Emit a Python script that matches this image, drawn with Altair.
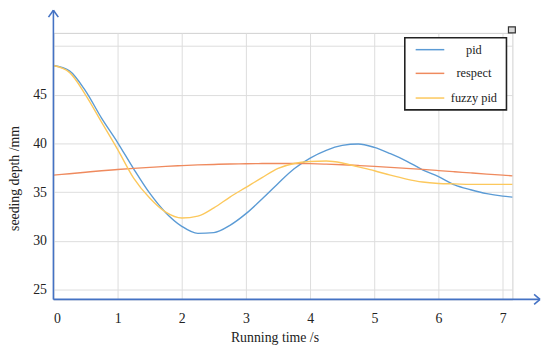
import altair as alt
import pandas as pd

time = [0, 0.25, 0.5, 0.75, 1.0, 1.25, 1.5, 1.75, 2.0, 2.25, 2.5, 2.75, 3.0, 3.25, 3.5,
        3.75, 4.0, 4.25, 4.5, 4.75, 5.0, 5.25, 5.5, 5.75, 6.0, 6.25, 6.5, 6.75, 7.0, 7.15]
pid = [48.0, 47.45, 45.4, 42.6, 40.1, 37.4, 34.9, 32.9, 31.5, 30.78, 30.85, 31.6, 32.8, 34.3, 35.9,
       37.4, 38.5, 39.3, 39.8, 39.95, 39.6, 38.95, 38.2, 37.3, 36.6, 35.75, 35.25, 34.85, 34.6, 34.5]
respect = [36.75, 36.9, 37.05, 37.2, 37.33, 37.45, 37.55, 37.65, 37.73, 37.8, 37.85, 37.9, 37.92, 37.94, 37.95,
           37.95, 37.93, 37.88, 37.82, 37.74, 37.65, 37.55, 37.45, 37.34, 37.22, 37.1, 36.98, 36.86, 36.75, 36.68]
fuzzy = [48.0, 47.3, 45.0, 42.2, 39.4, 36.45, 34.4, 32.95, 32.35, 32.55, 33.4, 34.5, 35.5, 36.5, 37.45,
         37.95, 38.15, 38.2, 38.0, 37.6, 37.2, 36.75, 36.35, 36.05, 35.9, 35.85, 35.8, 35.8, 35.8, 35.8]

series_names = ["pid", "respect", "fuzzy pid"]
series_colors = ["#5B9BD5", "#EF8A5E", "#FCC85C"]
y_ticks = [25, 30, 35, 40, 45, 50]
x_ticks = [0, 1, 2, 3, 4, 5, 6, 7]

rows = []
for name, vals in zip(series_names, [pid, respect, fuzzy]):
    for t, v in zip(time, vals):
        rows.append({"time": t, "value": v, "series": name})
df = pd.DataFrame(rows)

FONT = "Liberation Serif"
AXIS_BLUE = "#4472C4"
TEXT = "#222222"
W, H = 465, 270

lines = alt.Chart(df).mark_line(strokeWidth=1.4, interpolate="monotone").encode(
    x=alt.X("time:Q",
            scale=alt.Scale(domain=[0, 7.15], nice=False, zero=False),
            axis=alt.Axis(values=x_ticks, title="Running time /s", domain=False, ticks=False,
                          grid=True, gridColor="#dcdcdc", labelPadding=12, labelFontSize=14,
                          labelFont=FONT, labelColor=TEXT, titleFont=FONT, titleFontSize=14,
                          titleFontWeight="normal", titleColor=TEXT, titleX=224, titleY=39,
                          titleBaseline="middle")),
    y=alt.Y("value:Q",
            scale=alt.Scale(domain=[24, 51.35], nice=False, zero=False),
            axis=alt.Axis(values=y_ticks, title="seeding depth /mm", domain=False, ticks=False,
                          grid=True, gridColor="#dcdcdc", labelPadding=7, labelFontSize=14,
                          labelFont=FONT, labelColor=TEXT,
                          labelExpr="datum.value == 50 ? '' : datum.label",
                          titleFont=FONT, titleFontSize=14, titleFontWeight="normal",
                          titleColor=TEXT, titleX=-39, titleY=147, titleBaseline="middle",
                          titleAlign="center", titleAngle=-90)),
    color=alt.Color("series:N",
                    scale=alt.Scale(domain=series_names, range=series_colors),
                    sort=series_names, legend=None),
)

# axis lines with arrowheads
axis_style = dict(color=AXIS_BLUE, strokeWidth=1.6)
yaxis_line = alt.Chart().mark_rule(**axis_style).encode(
    x=alt.value(0), y=alt.value(-23), y2=alt.value(H))
xaxis_line = alt.Chart().mark_rule(**axis_style).encode(
    x=alt.value(0), x2=alt.value(W + 28), y=alt.value(H))
ya1 = alt.Chart().mark_rule(**axis_style).encode(
    x=alt.value(0), x2=alt.value(-5), y=alt.value(-23), y2=alt.value(-16))
ya2 = alt.Chart().mark_rule(**axis_style).encode(
    x=alt.value(0), x2=alt.value(5), y=alt.value(-23), y2=alt.value(-16))
xa1 = alt.Chart().mark_rule(**axis_style).encode(
    x=alt.value(W + 28), x2=alt.value(W + 22), y=alt.value(H), y2=alt.value(H - 5))
xa2 = alt.Chart().mark_rule(**axis_style).encode(
    x=alt.value(W + 28), x2=alt.value(W + 22), y=alt.value(H), y2=alt.value(H + 5))

# legend box
LX0, LX1, LY0, LY1 = 356, 459, 5, 78
legend_box = alt.Chart().mark_rect(fill="white", stroke=TEXT, strokeWidth=1.6).encode(
    x=alt.value(LX0), x2=alt.value(LX1), y=alt.value(LY0), y2=alt.value(LY1))
legend_layers = [legend_box]
row_y = [17, 41, 66]
for name, col, ry in zip(series_names, series_colors, row_y):
    legend_layers.append(alt.Chart().mark_rule(color=col, strokeWidth=1.5).encode(
        x=alt.value(367), x2=alt.value(396), y=alt.value(ry)))
    legend_layers.append(alt.Chart().mark_text(
        text=name, font=FONT, fontSize=12.5, color=TEXT, align="center", baseline="middle").encode(
        x=alt.value(426), y=alt.value(ry)))

# small icon at top right
icon = alt.Chart().mark_rect(fill="#d8d8d8", stroke="#333333", strokeWidth=1.2).encode(
    x=alt.value(461), x2=alt.value(468), y=alt.value(-6), y2=alt.value(0))

chart = alt.layer(lines, yaxis_line, xaxis_line, ya1, ya2, xa1, xa2, *legend_layers, icon).properties(
    width=W, height=H,
    autosize=alt.AutoSizeParams(type="none"),
    padding={"left": 46, "top": 23, "right": 30, "bottom": 45},
    background="white",
).configure_view(stroke="#cfcfcf", strokeWidth=1)

chart.save("out.html", embed_options={"renderer": "svg", "actions": False})
